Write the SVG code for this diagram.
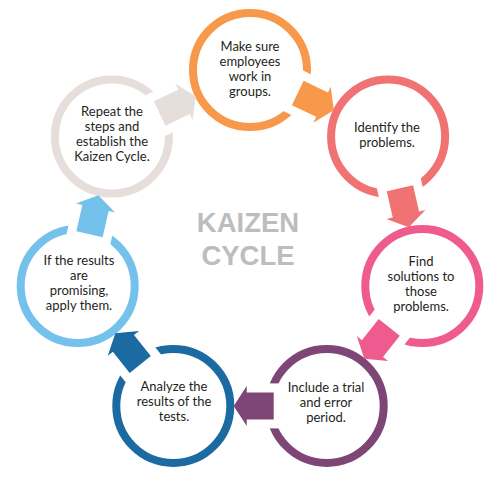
<svg xmlns="http://www.w3.org/2000/svg" width="497" height="483" viewBox="0 0 497 483">
<style>
.ring{fill:none;stroke-width:8}
.lbl{font-family:Lato,"Liberation Sans",sans-serif;font-size:13px;fill:#231F20;text-anchor:middle}
.title{font-family:"Liberation Sans",Arial,sans-serif;font-weight:bold;font-size:27.5px;fill:#BDBDBD;text-anchor:middle}
.gap{fill:#FFFFFF}
</style>
<defs>
<polygon id="arrowShape" points="53,-13.5 80,-13.5 80,-20 93,0 80,20 80,13.5 53,13.5"/>
<rect id="gapShape" x="47" y="-22.5" width="20" height="45"/>
</defs>
<rect width="497" height="483" fill="#FFFFFF"/>
<g id="title">
<text class="title" x="248" y="232">KAIZEN</text>
<text class="title" x="248" y="265">CYCLE</text>
</g>
<g id="node1">
<circle class="ring" cx="250" cy="70" r="57" stroke="#F7984A"/>
<text class="lbl" x="250" y="51">Make sure</text>
<text class="lbl" x="250" y="66">employees</text>
<text class="lbl" x="250" y="81">work in</text>
<text class="lbl" x="250" y="96">groups.</text>
</g>
<g id="node2">
<circle class="ring" cx="388.1" cy="136.5" r="57" stroke="#F07272"/>
<text class="lbl" x="387" y="132">Identify the</text>
<text class="lbl" x="387" y="147">problems.</text>
</g>
<g id="node3">
<circle class="ring" cx="422.3" cy="286" r="57" stroke="#EF5A8F"/>
<text class="lbl" x="421" y="266">Find</text>
<text class="lbl" x="421" y="281">solutions to</text>
<text class="lbl" x="421" y="296">those</text>
<text class="lbl" x="421" y="311">problems.</text>
</g>
<g id="node4">
<circle class="ring" cx="326.7" cy="405.9" r="57" stroke="#7D4677"/>
<text class="lbl" x="326" y="392">Include a trial</text>
<text class="lbl" x="326" y="407">and error</text>
<text class="lbl" x="326" y="422">period.</text>
</g>
<g id="node5">
<circle class="ring" cx="173.3" cy="405.9" r="57" stroke="#1B6AA2"/>
<text class="lbl" x="174" y="391">Analyze the</text>
<text class="lbl" x="174" y="406">results of the</text>
<text class="lbl" x="174" y="421">tests.</text>
</g>
<g id="node6">
<circle class="ring" cx="77.7" cy="286" r="57" stroke="#74C2EC"/>
<text class="lbl" x="79" y="265">If the results</text>
<text class="lbl" x="79" y="280">are</text>
<text class="lbl" x="79" y="295">promising,</text>
<text class="lbl" x="79" y="310">apply them.</text>
</g>
<g id="node7">
<circle class="ring" cx="111.9" cy="136.5" r="57" stroke="#E6DEDB"/>
<text class="lbl" x="112" y="116">Repeat the</text>
<text class="lbl" x="112" y="131">steps and</text>
<text class="lbl" x="112" y="146">establish the</text>
<text class="lbl" x="112" y="161">Kaizen Cycle.</text>
</g>
<g id="connectors">
<g transform="translate(250,70) rotate(25.714)"><use href="#gapShape" class="gap"/><use href="#arrowShape" fill="#F7984A"/></g>
<g transform="translate(388.1,136.5) rotate(77.143)"><use href="#gapShape" class="gap"/><use href="#arrowShape" fill="#F07272"/></g>
<g transform="translate(422.3,286) rotate(128.571)"><use href="#gapShape" class="gap"/><use href="#arrowShape" fill="#EF5A8F"/></g>
<g transform="translate(326.7,405.9) rotate(180)"><use href="#gapShape" class="gap"/><use href="#arrowShape" fill="#7D4677"/></g>
<g transform="translate(173.3,405.9) rotate(231.429)"><use href="#gapShape" class="gap"/><use href="#arrowShape" fill="#1B6AA2"/></g>
<g transform="translate(77.7,286) rotate(282.857)"><use href="#gapShape" class="gap"/><use href="#arrowShape" fill="#74C2EC"/></g>
<g transform="translate(111.9,136.5) rotate(334.286)"><use href="#gapShape" class="gap"/><use href="#arrowShape" fill="#E6DEDB"/></g>
</g>
</svg>
